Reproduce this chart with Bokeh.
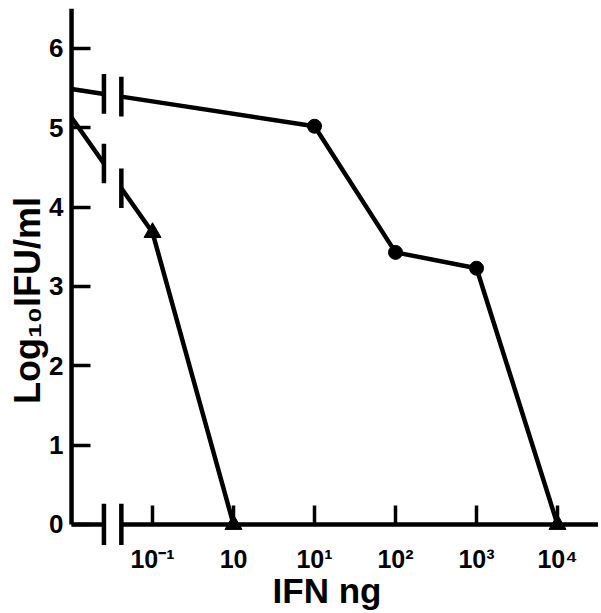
import numpy as np
from bokeh.plotting import figure
from bokeh.models import FixedTicker, Range1d
from bokeh.embed import file_html
from bokeh.resources import INLINE

# ---- data (x = log10 of IFN dose in ng; control = no IFN, drawn on the y axis) ----
x_ticks = [-1, 0, 1, 2, 3, 4]
x_tick_labels = ["10\u207b\u00b9", "10", "10\u00b9", "10\u00b2", "10\u00b3", "10\u2074"]
y_ticks = [0, 1, 2, 3, 4, 5, 6]

control_x = -2.0
circle_control = 5.49
circle_log_dose = [1, 2, 3, 4]
circle_titer = [5.02, 3.43, 3.23, 0.0]
circle_markers = ["circle", "circle", "circle", "triangle"]

triangle_control = 5.13
triangle_log_dose = [-1, 0]
triangle_titer = [3.68, 0.0]
triangle_markers = ["triangle", "triangle"]

break_left = -1.6
break_right = -1.385
bar_half = 0.25
x_axis_end = 4.5
y_axis_top = 6.5

FONT = "Liberation Sans"
LW = 4.5

p = figure(width=601, height=613,
           x_range=Range1d(-2.877, 4.543), y_range=Range1d(-1.122, 6.605),
           output_backend="svg", toolbar_location=None, min_border=0)
p.outline_line_color = None
p.grid.visible = False
p.background_fill_color = "white"
p.border_fill_color = "white"

# axes (lines drawn separately because of the axis break)
p.xaxis.fixed_location = 0
p.yaxis.fixed_location = control_x
p.xaxis.bounds = (-2.2, x_axis_end)
p.yaxis.bounds = (-0.86, y_axis_top)
for ax in (p.xaxis, p.yaxis):
    ax.axis_line_color = None
    ax.major_tick_line_width = 3.5
    ax.major_tick_line_color = "black"
    ax.major_tick_in = 19
    ax.major_tick_out = 0
    ax.minor_tick_line_color = None
    ax.major_label_text_font = FONT
    ax.major_label_text_font_style = "bold"
    ax.major_label_text_color = "black"
    ax.axis_label_text_font = FONT
    ax.axis_label_text_font_style = "bold"
    ax.axis_label_text_color = "black"

p.xaxis.ticker = FixedTicker(ticks=x_ticks)
p.xaxis.major_label_overrides = {t: lab for t, lab in zip(x_ticks, x_tick_labels)}
p.xaxis.major_label_text_font_size = "25px"
p.xaxis.major_label_standoff = 21
p.xaxis.axis_label = "IFN ng"
p.xaxis.axis_label_text_font_size = "35px"
p.xaxis.axis_label_standoff = -6

p.yaxis.ticker = FixedTicker(ticks=y_ticks)
p.yaxis.major_label_text_font_size = "26px"
p.yaxis.major_label_standoff = 8
p.yaxis.major_label_orientation = "horizontal"
p.yaxis.axis_label = "Log\u2081\u2080IFU/ml"
p.yaxis.axis_label_text_font_size = "36px"
p.yaxis.axis_label_standoff = -2

# axis lines: y axis, and the broken x axis
p.segment(x0=[control_x], y0=[0], x1=[control_x], y1=[y_axis_top], line_width=LW, line_color="black")
p.segment(x0=[control_x, break_right], y0=[0, 0], x1=[break_left, x_axis_end], y1=[0, 0],
          line_width=LW, line_color="black")
# break bars on the x axis
p.segment(x0=[break_left, break_right], y0=[-0.26, -0.26],
          x1=[break_left, break_right], y1=[0.26, 0.26], line_width=LW, line_color="black")


def series(control, xs, ys, markers, size_c, size_t):
    # straight line from the control to the first dose, interrupted by the break
    slope = (ys[0] - control) / (xs[0] - control_x)
    yl = control + slope * (break_left - control_x)
    yr = control + slope * (break_right - control_x)
    p.line([control_x, break_left], [control, yl], line_width=LW, line_color="black")
    p.line([break_right] + list(xs), [yr] + list(ys), line_width=LW, line_color="black",
           line_join="round")
    p.segment(x0=[break_left, break_right], y0=[yl - bar_half, yr - bar_half],
              x1=[break_left, break_right], y1=[yl + bar_half, yr + bar_half],
              line_width=LW, line_color="black")
    for x, y, m in zip(xs, ys, markers):
        p.scatter([x], [y], marker=m, size=size_t if m == "triangle" else size_c,
                  fill_color="black", line_color="black")


series(circle_control, circle_log_dose, circle_titer, circle_markers, 14, 17)
series(triangle_control, triangle_log_dose, triangle_titer, triangle_markers, 14, 17)

open("out.html", "w").write(file_html(p, INLINE))
